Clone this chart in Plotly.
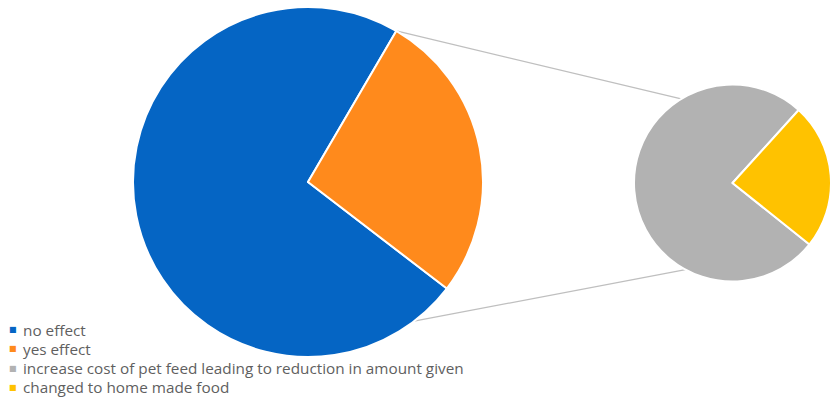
import math
import plotly.graph_objects as go

# ---- data ----
main_labels = ["no effect", "yes effect"]
main_values = [73, 27]
sub_labels = ["increase cost of pet feed leading to reduction in amount given",
              "changed to home made food"]
sub_values = [76, 24]

# ---- style ----
W, H = 831, 398
main_colors = ["#0565C4", "#FF8A1C"]
sub_colors = ["#B2B2B2", "#FFC200"]
text_color = "#5F5F5F"
FONT = "Open Sans"

main_c = (308, 182); main_r = 175
sub_left = 634; sub_cy = 183
sub_r = (W - sub_left) / 2
sub_c = (sub_left + sub_r, sub_cy)
main_rot = 127.5
sub_rot = 128.6


def dom(c, r):
    return dict(x=[(c[0] - r) / W, min(1, (c[0] + r) / W)],
                y=[(H - c[1] - r) / H, (H - c[1] + r) / H])


fig = go.Figure()
fig.add_trace(go.Pie(labels=main_labels, values=main_values, sort=False,
                     direction="clockwise", rotation=main_rot,
                     marker=dict(colors=main_colors, line=dict(color="white", width=2)),
                     textinfo="none", showlegend=False, domain=dom(main_c, main_r)))
fig.add_trace(go.Pie(labels=sub_labels, values=sub_values, sort=False,
                     direction="clockwise", rotation=sub_rot,
                     marker=dict(colors=sub_colors, line=dict(color="white", width=2)),
                     textinfo="none", showlegend=False, domain=dom(sub_c, sub_r)))


def pt(c, r, ang):
    a = math.radians(ang)
    return ((c[0] + r * math.sin(a)) / W, 1 - (c[1] - r * math.cos(a)) / H)


total = sum(main_values)
split_start = (main_rot + 360 * main_values[0] / total) % 360
p1 = pt(main_c, main_r, split_start)
p2 = pt(sub_c, sub_r, 328.6)
p3 = pt(main_c, main_r, 142.7)
p4 = pt(sub_c, sub_r, 208.5)
line_style = dict(color="#BFBFBF", width=1.2)
shapes = [dict(type="line", xref="paper", yref="paper", x0=p1[0], y0=p1[1], x1=p2[0], y1=p2[1], line=line_style, layer="below"),
          dict(type="line", xref="paper", yref="paper", x0=p3[0], y0=p3[1], x1=p4[0], y1=p4[1], line=line_style, layer="below")]

# legend (as annotations, Excel-style compact rows)
all_labels = main_labels + sub_labels
all_colors = main_colors + sub_colors
annotations = []
row0, row_gap = 329.5, 19.3
for i, (lab, col) in enumerate(zip(all_labels, all_colors)):
    yy = 1 - (row0 + i * row_gap) / H
    annotations.append(dict(xref="paper", yref="paper", x=12.5 / W, y=yy,
                            xanchor="center", yanchor="middle", showarrow=False,
                            text="■", font=dict(family="DejaVu Sans", size=8, color=col)))
    annotations.append(dict(xref="paper", yref="paper", x=21 / W, y=yy,
                            xanchor="left", yanchor="middle", showarrow=False,
                            text=lab, font=dict(family=FONT, size=15.3, color=text_color)))

fig.update_layout(
    width=W, height=H, margin=dict(l=0, r=0, t=0, b=0, autoexpand=False),
    paper_bgcolor="white", plot_bgcolor="white",
    shapes=shapes, annotations=annotations, showlegend=False,
)
fig.write_html("out.html")
